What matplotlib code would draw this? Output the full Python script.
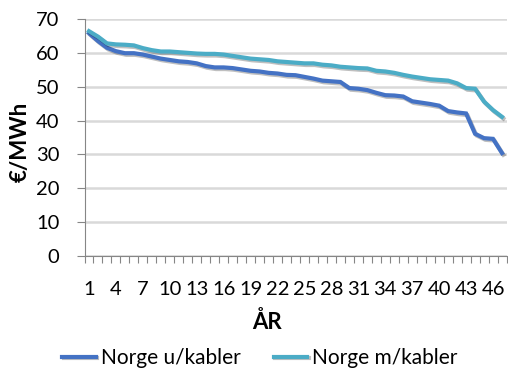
import matplotlib
matplotlib.use('Agg')
import matplotlib.pyplot as plt
import matplotlib.patheffects as pe
import numpy as np

plt.rcParams['font.family'] = ['Lato', 'DejaVu Sans']

# data
years = list(range(1, 48))
norge_u_kabler = [65.8, 63.5, 61.5, 60.5, 59.9, 59.9, 59.5, 58.9, 58.3, 57.9,
                  57.5, 57.3, 56.9, 56.1, 55.7, 55.7, 55.5, 55.1, 54.7, 54.5,
                  54.1, 53.9, 53.5, 53.4, 52.9, 52.4, 51.8, 51.6, 51.4, 49.6,
                  49.4, 49.0, 48.2, 47.5, 47.4, 47.1, 45.7, 45.3, 44.9, 44.4,
                  42.8, 42.4, 42.1, 36.1, 34.8, 34.6, 30.4]
norge_m_kabler = [66.4, 64.8, 62.8, 62.5, 62.4, 62.2, 61.4, 60.8, 60.4, 60.4,
                  60.2, 60.0, 59.8, 59.7, 59.7, 59.5, 59.1, 58.7, 58.3, 58.1,
                  57.9, 57.5, 57.3, 57.1, 56.9, 56.9, 56.5, 56.3, 55.9, 55.7,
                  55.5, 55.4, 54.7, 54.5, 54.1, 53.5, 53.0, 52.6, 52.2, 52.0,
                  51.8, 51.0, 49.6, 49.4, 45.6, 43.1, 41.1]
labels = ['Norge u/kabler', 'Norge m/kabler']
colors = ['#4472c4', '#4bacc6']

fig = plt.figure(figsize=(5.08, 3.73), dpi=100)
ax = fig.add_axes([84.5 / 508, 1 - 256 / 373, 422 / 508, 237 / 373])

shadow = [pe.SimpleLineShadow(offset=(1, -1.2), alpha=0.25, shadow_color='black'), pe.Normal()]
for vals, lab, col in zip([norge_u_kabler, norge_m_kabler], labels, colors):
    ax.plot(years, vals, color=col, lw=3.0, label=lab, solid_joinstyle='miter',
            path_effects=shadow)

ax.set_xlim(0.5, 47.5)
ax.set_ylim(0, 70)
ax.set_yticks(np.arange(0, 71, 10))
ax.yaxis.grid(True, color='#d9d9d9', lw=1.8)
ax.set_axisbelow(True)

ax.set_xticks(years[::3])
ax.set_xticks(np.arange(0.5, 48, 1), minor=True)
ax.tick_params(axis='x', which='major', length=0, pad=18, labelsize=14.5, colors='#000000')
ax.tick_params(axis='x', which='minor', length=5, width=0.8, color='#868686', direction='out')
ax.tick_params(axis='y', length=6, width=0.8, color='#868686', pad=12, labelsize=14.5)

for s in ['top', 'right']:
    ax.spines[s].set_visible(False)
for s in ['left', 'bottom']:
    ax.spines[s].set_color('#868686')
    ax.spines[s].set_linewidth(0.8)

fig.text(20 / 508, 1 - 142 / 373, '€/MWh', rotation=90, fontsize=16, fontweight='bold',
         ha='center', va='center')
fig.text(267 / 508, 1 - 322 / 373, 'ÅR', fontsize=16, fontweight='bold',
         ha='center', va='center')

fig.legend(loc='center', bbox_to_anchor=(260 / 508, 1 - 358 / 373), ncol=2, frameon=False,
           fontsize=15, handlelength=1.6, handletextpad=0.25, columnspacing=1.6,
           borderpad=0, borderaxespad=0)

fig.savefig('out.png', dpi=100)
